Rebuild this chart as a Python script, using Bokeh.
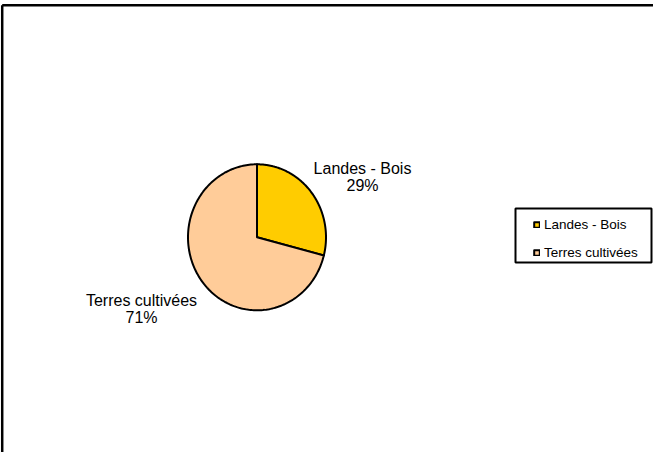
import numpy as np
from bokeh.plotting import figure
from bokeh.models import Range1d, Legend, LegendItem
from bokeh.core.properties import value
from bokeh.embed import file_html
from bokeh.resources import INLINE

# ---- data ----
categories = ["Landes - Bois", "Terres cultivées"]
values = [29, 71]
colors = ["#FFCC00", "#FFCC99"]
pct_labels = ["29%", "71%"]

# ---- layout (pixel coordinates inside figure, y downward) ----
W, H = 653, 452
cx, cy = 256.5, 236.8
rx, ry = 69.0, 73.0
label_pos = [(362, 168), (141, 300)]
line_gap = 17
FONT = "Liberation Sans"
legend_box = dict(left=515, right=651, top=208, bottom=262)

p = figure(width=W, height=H, output_backend="svg", toolbar_location=None,
           x_range=Range1d(0, W), y_range=Range1d(H, 0),
           x_axis_type=None, y_axis_type=None, min_border=0)
p.outline_line_color = None
p.grid.visible = False
p.background_fill_color = "white"
p.border_fill_color = "white"

# outer chart frame (only top and left visible, rest is cropped)
p.multi_line(xs=[[1.7, 1.7], [1.7, W + 10]], ys=[[H + 10, 4.8], [4.8, 4.8]],
             line_color="black", line_width=2.5)

# pie slices as elliptical patches, clockwise from 12 o'clock
vals = np.array(values, dtype=float)
frac = vals / vals.sum()
edges = np.concatenate([[0.0], np.cumsum(frac)]) * 2 * np.pi
items = []
for i, cat in enumerate(categories):
    th = np.linspace(edges[i], edges[i + 1], 200)
    xs = np.concatenate([[cx], cx + rx * np.sin(th), [cx]])
    ys = np.concatenate([[cy], cy - ry * np.cos(th), [cy]])
    r = p.patch(xs, ys, fill_color=colors[i], line_color="black", line_width=2,
                line_join="round")
    items.append(LegendItem(label=cat, renderers=[r]))

# data labels
for i, cat in enumerate(categories):
    lx, ly = label_pos[i]
    p.text(x=[lx, lx], y=[ly, ly + line_gap], text=[cat, pct_labels[i]],
           text_align="center", text_baseline="alphabetic",
           text_font=value(FONT), text_font_size="16px", text_color="black")

# legend frame
p.quad(left=legend_box["left"], right=legend_box["right"],
       top=legend_box["top"], bottom=legend_box["bottom"],
       fill_color="white", line_color="black", line_width=2)

legend = Legend(items=items, location=(533, 192), orientation="vertical")
legend.border_line_color = None
legend.background_fill_alpha = 0
legend.padding = 0
legend.margin = 0
legend.spacing = 12
legend.glyph_width = 7
legend.glyph_height = 7
legend.label_standoff = 4
legend.label_height = 16
legend.label_text_font = FONT
legend.label_text_font_size = "13.5px"
legend.label_text_color = "black"
p.add_layout(legend, "center")

open("out.html", "w").write(file_html(p, INLINE))
